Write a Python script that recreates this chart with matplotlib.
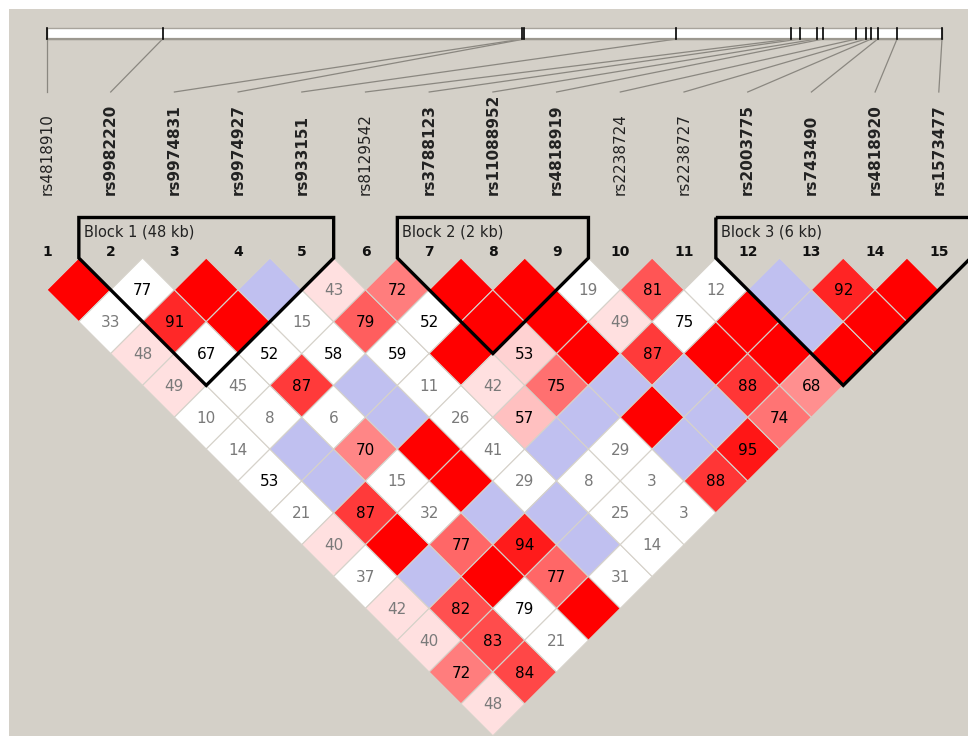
import numpy as np
import matplotlib
matplotlib.use("Agg")
from matplotlib import pyplot as plt
from matplotlib.patches import Polygon, Rectangle

# SNP names, in map order
snps = ['rs4818910', 'rs9982220', 'rs9974831', 'rs9974927', 'rs933151',
        'rs8129542', 'rs3788123', 'rs11088952', 'rs4818919', 'rs2238724',
        'rs2238727', 'rs2003775', 'rs743490', 'rs4818920', 'rs1573477']

# marker positions along the region (kb from first marker)
pos_kb = [0.0, 10.8, 44.4, 44.6, 58.8, 69.5, 70.3, 71.9, 72.5,
          75.6, 76.5, 77.0, 77.6, 79.4, 83.6]

# haplotype blocks: first marker, last marker (1-based), label
block_start = [2, 7, 12]
block_end = [5, 9, 15]
block_names = ['Block 1 (48 kb)', 'Block 2 (2 kb)', 'Block 3 (6 kb)']

# D' x100 for each marker pair (row i, columns j > i)
dprime = [
    [100, 33, 48, 49, 10, 14, 53, 21, 40, 37, 42, 40, 72, 48],
    [77, 91, 67, 45, 8, 100, 100, 87, 100, 100, 82, 83, 84],
    [100, 100, 52, 87, 6, 70, 15, 32, 77, 100, 79, 21],
    [100, 15, 58, 100, 100, 100, 100, 100, 94, 77, 100],
    [43, 79, 59, 11, 26, 41, 29, 100, 100, 31],
    [72, 52, 100, 42, 57, 100, 8, 25, 14],
    [100, 100, 53, 75, 100, 29, 3, 3],
    [100, 100, 100, 100, 100, 100, 88],
    [19, 49, 87, 100, 100, 95],
    [81, 75, 100, 88, 74],
    [12, 100, 100, 68],
    [100, 100, 100],
    [92, 100],
    [100],
]

# 1 where LOD >= 2
lod_high = [
    [1, 0, 1, 1, 0, 0, 0, 0, 1, 0, 1, 1, 1, 1],
    [0, 1, 0, 0, 0, 0, 0, 1, 1, 0, 1, 1, 1],
    [1, 1, 0, 1, 0, 1, 0, 0, 1, 1, 0, 0],
    [0, 0, 0, 0, 0, 1, 1, 0, 1, 1, 1],
    [1, 1, 0, 0, 0, 0, 0, 0, 0, 0],
    [1, 0, 1, 1, 1, 0, 0, 0, 0],
    [1, 1, 1, 1, 0, 0, 0, 0],
    [1, 1, 1, 0, 1, 0, 1],
    [0, 1, 1, 0, 0, 1],
    [1, 0, 1, 1, 1],
    [0, 1, 1, 1],
    [0, 0, 1],
    [1, 1],
    [1],
]

bold_snps = set()
for a, b in zip(block_start, block_end):
    bold_snps.update(range(a, b + 1))

n = len(snps)
X0, STEP, Y0 = 47.0, 63.7, 258.0
half = STEP / 2
BAR_L, BAR_R, BAR_T, BAR_B = 47.0, 942.0, 28.0, 38.5
bg = '#d4d0c8'


def marker_x(k):
    return X0 + k * STEP


def box_color(d, strong):
    if strong:
        if d >= 100:
            return (1.0, 0.0, 0.0)
        if d < 50:
            return (1.0, 224 / 255, 224 / 255)
        blgr = (255 - 32) * 2 * (1 - d / 100.0)
        return (1.0, blgr / 255, blgr / 255)
    if d >= 100:
        return (192 / 255, 192 / 255, 240 / 255)
    return (1.0, 1.0, 1.0)


fig = plt.figure(figsize=(9.68, 7.36), dpi=100)
ax = fig.add_axes([0, 0, 1, 1])
ax.set_xlim(0, 968)
ax.set_ylim(736, 0)
ax.axis('off')
ax.add_patch(Rectangle((9, 9), 968, 736, facecolor=bg, edgecolor='none', zorder=0))

# physical map bar
span = pos_kb[-1] - pos_kb[0]
bar_x = [BAR_L + (p - pos_kb[0]) / span * (BAR_R - BAR_L) for p in pos_kb]
ax.add_patch(Rectangle((BAR_L, BAR_T), BAR_R - BAR_L, BAR_B - BAR_T,
                       facecolor='white', edgecolor='#a8a49c', lw=1.0, zorder=2))
ax.plot([BAR_L, BAR_R], [BAR_B, BAR_B], color='#9c988f', lw=1.6, zorder=3)
for k in range(n):
    ax.plot([bar_x[k], bar_x[k]], [BAR_T, BAR_B], color='black', lw=1.2, zorder=4)
    ax.plot([bar_x[k], marker_x(k)], [BAR_B + 0.5, 92], color='#8a8780', lw=0.9, zorder=1)

# SNP names and numbers
for k, name in enumerate(snps):
    weight = 'bold' if (k + 1) in bold_snps else 'normal'
    ax.text(marker_x(k), 195, name, rotation=90, ha='center', va='bottom',
            fontsize=11, fontweight=weight, color='#222222')
    ax.text(marker_x(k), 252, str(k + 1), ha='center', va='center',
            fontsize=10, fontweight='bold', color='#111111')

# LD diamonds
for i in range(n - 1):
    for idx, d in enumerate(dprime[i]):
        j = i + 1 + idx
        cx = (marker_x(i) + marker_x(j)) / 2
        cy = Y0 + (j - i) * half
        pts = [(cx, cy - half), (cx + half, cy), (cx, cy + half), (cx - half, cy)]
        ax.add_patch(Polygon(pts, closed=True, facecolor=box_color(d, lod_high[i][idx]),
                             edgecolor='#d6d2ca', lw=0.8, zorder=5))
        if d < 100:
            tc = 'black' if d >= 50 else '#7a7a7a'
            ax.text(cx, cy + 1, str(d), ha='center', va='center',
                    fontsize=11, color=tc, zorder=6)

# block outlines
TOP = 217.5
for a, b, label in zip(block_start, block_end, block_names):
    left = marker_x(a - 1) - half
    right = marker_x(b - 1) + half
    ax_ = (marker_x(a - 1) + marker_x(b - 1)) / 2
    ay = Y0 + (b - a) * half + half
    outline = [(left, TOP), (left, Y0), (ax_, ay), (right, Y0), (right, TOP)]
    ax.add_patch(Polygon(outline, closed=True, fill=False, edgecolor='black',
                         lw=2.4, joinstyle='miter', zorder=7))
    ax.text(left + 5, 232, label, ha='left', va='center', fontsize=10.5,
            color='#222222', zorder=8)

fig.savefig('out.png', dpi=100, facecolor='white')
